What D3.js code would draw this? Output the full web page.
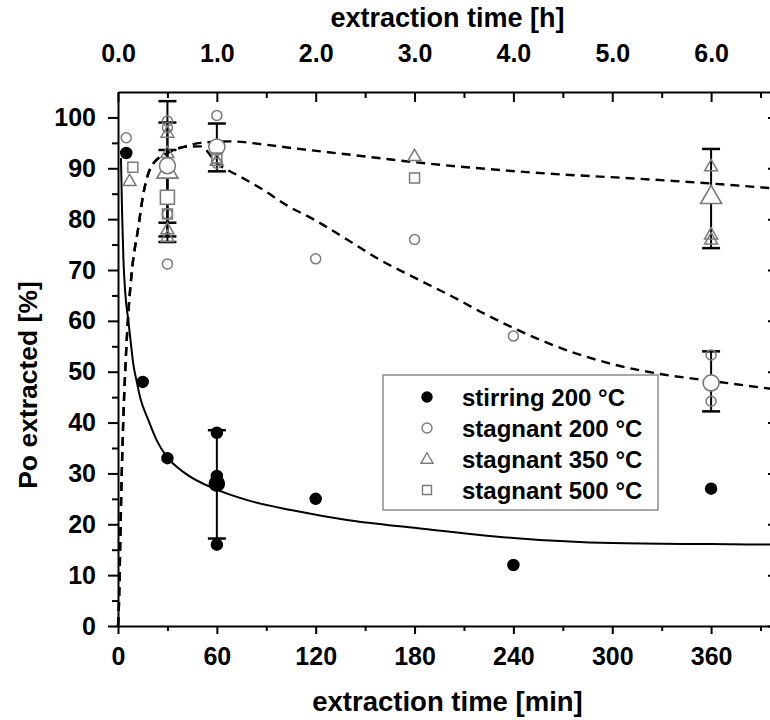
<!DOCTYPE html>
<html>
<head>
<meta charset="utf-8">
<script src="https://cdn.jsdelivr.net/npm/d3@7"></script>
<style>
  html, body { margin: 0; padding: 0; background: #fff; }
  svg { display: block; }
  text { font-family: "Liberation Sans", Arial, sans-serif; font-weight: bold; fill: #000; }
</style>
</head>
<body>
<svg id="chart" width="770" height="720"></svg>
<script>
// ---------------- data ----------------
const xTicksMin = [0, 60, 120, 180, 240, 300, 360];
const xMinorMin = [30, 90, 150, 210, 270, 330, 390];
const xTicksHour = [0, 1, 2, 3, 4, 5, 6];
const xMinorHour = [0.5, 1.5, 2.5, 3.5, 4.5, 5.5, 6.5];
const yTicks = [0, 10, 20, 30, 40, 50, 60, 70, 80, 90, 100];
const yMinor = [5, 15, 25, 35, 45, 55, 65, 75, 85, 95];

const seriesNames = ["stirring 200 °C", "stagnant 200 °C", "stagnant 350 °C", "stagnant 500 °C"];

// individual measurements [time min, % extracted]
const stirringPts = [[5, 93], [15, 48], [30, 33], [60, 38], [60, 29.5], [60, 16], [120, 25], [240, 12], [360, 27]];
const stag200Pts = [[5, 96], [30, 99.3], [30, 98], [30, 81], [30, 71.2], [60, 100.4], [60, 91], [120, 72.2], [180, 76], [240, 57], [360, 53.3], [360, 44.2]];
const stag350Pts = [[7, 87.5], [30, 97], [30, 93], [30, 78], [30, 76.5], [60, 91.5], [180, 92.4], [360, 90.4], [360, 77], [360, 76]];
const stag500Pts = [[9, 90.2], [30, 81], [60, 92], [180, 88.1]];

// means with error bars [time, mean, low, high]
const stirringMean = [[60, 28, 17.2, 38.5]];
const stag200Mean = [[30, 90.5, 79.3, 99], [60, 94.2, 89.4, 98.8], [360, 47.8, 42.2, 54]];
const stag350Mean = [[30, 89.5, 75.5, 103.2], [360, 84.5, 74.3, 93.8]];
const stag500Mean = [[30, 84.3, 76.6, 93.6]];

// fitted curves [time, %]
const fitStirring = [[1.8, 92], [2.5, 81], [3.3, 72], [4.4, 65.5], [6.3, 60], [8, 55], [9.3, 51.5], [11.4, 48], [13.4, 45], [18.4, 40.5], [23.5, 36.5], [29.6, 33.3], [40, 30.2], [60, 26.8], [80, 24.6], [105, 22.8], [140, 20.8], [180, 19.3], [240, 17.3], [300, 16.3], [360, 16.1], [400, 16]];
const fitStagHigh = [[0, 0], [0.6, 4.5], [1.4, 17], [2.2, 29], [3.2, 40.5], [4.5, 51], [6.3, 61.6], [8.3, 69.4], [12.4, 78.5], [15.4, 85], [20.5, 90.5], [30, 93], [40, 94.2], [50, 95], [68, 95.3], [88, 94.7], [105, 94], [140, 92.7], [180, 91.2], [250, 89.2], [323, 87.8], [360, 87], [400, 86]];
const fitStagLow = [[0, 0], [0.6, 4.5], [1.4, 17], [2.2, 29], [3.2, 40.5], [4.5, 51], [6.3, 61.6], [8.3, 69.4], [12.4, 78.5], [15.4, 85], [20.5, 90.5], [30, 93], [40, 94.2], [50, 94.3], [60, 91], [74, 88.4], [88, 85.8], [102, 82.8], [119, 79.9], [139, 76], [159, 72], [180, 68.5], [204, 64.6], [220, 61.8], [240, 58.6], [270, 54.5], [300, 51.5], [330, 49.5], [360, 48.2], [395, 46.7], [400, 46.5]];

// ---------------- drawing ----------------
const svg = d3.select("#chart");
const X0 = 118, X1 = 777, Y0 = 626, Y1 = 92;
const x = d3.scaleLinear().domain([0, 400]).range([X0, X1]);
const xh = d3.scaleLinear().domain([0, 400 / 60]).range([X0, X1]);
const y = d3.scaleLinear().domain([0, 105]).range([Y0, Y1]);

const GRAY = "#7a7a7a";
const TICKFONT = 25;

function styleAxis(g) {
  g.selectAll("path.domain").attr("stroke", "#000").attr("stroke-width", 2);
  g.selectAll(".tick line").attr("stroke", "#000").attr("stroke-width", 2);
  g.selectAll("text").attr("font-size", TICKFONT).attr("font-family", '"Liberation Sans", Arial, sans-serif').attr("font-weight", "bold").attr("fill", "#000");
}

// left axis
const gl = svg.append("g").attr("transform", `translate(${X0},0)`)
  .call(d3.axisLeft(y).tickValues(yTicks).tickSize(10).tickSizeOuter(0).tickPadding(12).tickFormat(d3.format("d")));
styleAxis(gl);
const glm = svg.append("g").attr("transform", `translate(${X0},0)`)
  .call(d3.axisLeft(y).tickValues(yMinor).tickSize(6).tickFormat(""));
glm.select("path.domain").remove(); styleAxis(glm);

// bottom axis
const gb = svg.append("g").attr("transform", `translate(0,${Y0})`)
  .call(d3.axisBottom(x).tickValues(xTicksMin).tickSize(8).tickSizeOuter(0).tickPadding(13).tickFormat(d3.format("d")));
styleAxis(gb);
const gbm = svg.append("g").attr("transform", `translate(0,${Y0})`)
  .call(d3.axisBottom(x).tickValues(xMinorMin).tickSize(5).tickFormat(""));
gbm.select("path.domain").remove(); styleAxis(gbm);

// top axis (hours) with inward ticks
const gt = svg.append("g").attr("transform", `translate(0,${Y1})`)
  .call(d3.axisTop(xh).tickValues(xTicksHour).tickSize(-10).tickSizeOuter(0).tickPadding(30).tickFormat(d3.format(".1f")));
styleAxis(gt);
gt.selectAll(".tick line").attr("y2", 10);
const gtm = svg.append("g").attr("transform", `translate(0,${Y1})`)
  .call(d3.axisTop(xh).tickValues(xMinorHour).tickSize(-6).tickFormat(""));
gtm.select("path.domain").remove(); styleAxis(gtm);

// right axis (inward ticks, no labels)
const gr = svg.append("g").attr("transform", `translate(${X1},0)`)
  .call(d3.axisRight(y).tickValues(yTicks).tickSize(-9).tickSizeOuter(0).tickFormat(""));
styleAxis(gr);

// axis titles
svg.append("text").attr("x", (X0 + X1) / 2).attr("y", 711).attr("text-anchor", "middle").attr("font-size", 27.5).text("extraction time [min]");
svg.append("text").attr("x", (X0 + X1) / 2).attr("y", 27).attr("text-anchor", "middle").attr("font-size", 27).text("extraction time [h]");
svg.append("text").attr("transform", `translate(37,${385}) rotate(-90)`).attr("text-anchor", "middle").attr("font-size", 26.5).text("Po extracted [%]");

// fitted curves
const line = d3.line().x(d => x(d[0])).y(d => y(d[1])).curve(d3.curveMonotoneX);
svg.append("path").datum(fitStirring).attr("d", line).attr("fill", "none").attr("stroke", "#000").attr("stroke-width", 2);
svg.append("path").datum(fitStagHigh).attr("d", line).attr("fill", "none").attr("stroke", "#000").attr("stroke-width", 2.4).attr("stroke-dasharray", "9,6");
svg.append("path").datum(fitStagLow).attr("d", line).attr("fill", "none").attr("stroke", "#000").attr("stroke-width", 2.4).attr("stroke-dasharray", "9,6");

// marker shape generators (centered)
function tri(w) { const h = w * 0.87; return `M0,${-h * 0.6}L${w / 2},${h * 0.4}L${-w / 2},${h * 0.4}Z`; }
function sq(s) { return `M${-s / 2},${-s / 2}h${s}v${s}h${-s}Z`; }
function circ(r) { return `M${r},0A${r},${r} 0 1,1 ${-r},0A${r},${r} 0 1,1 ${r},0Z`; }

// error bars
const allMeans = [].concat(stirringMean, stag200Mean, stag350Mean, stag500Mean);
const eb = svg.append("g");
allMeans.forEach(d => {
  eb.append("line").attr("x1", x(d[0])).attr("x2", x(d[0])).attr("y1", y(d[2])).attr("y2", y(d[3])).attr("stroke", "#000").attr("stroke-width", 2);
  [d[2], d[3]].forEach(v => eb.append("line").attr("x1", x(d[0]) - 9).attr("x2", x(d[0]) + 9).attr("y1", y(v)).attr("y2", y(v)).attr("stroke", "#000").attr("stroke-width", 2.5));
});

// mean (big) markers
function bigMarkers(data, shape, fill, stroke) {
  svg.append("g").selectAll("path").data(data).join("path")
    .attr("transform", d => `translate(${x(d[0])},${y(d[1])})`)
    .attr("d", shape).attr("fill", fill).attr("stroke", stroke).attr("stroke-width", 1.6);
}
bigMarkers(stag500Mean, sq(14), "#fff", GRAY);
bigMarkers(stag350Mean, tri(21), "#fff", GRAY);
bigMarkers(stag200Mean, circ(8), "#fff", GRAY);
bigMarkers(stirringMean, circ(7.5), "#000", "#000");

// individual (small) markers
function smallMarkers(data, shape, fill, stroke) {
  svg.append("g").selectAll("path").data(data).join("path")
    .attr("transform", d => `translate(${x(d[0])},${y(d[1])})`)
    .attr("d", shape).attr("fill", fill).attr("stroke", stroke).attr("stroke-width", 1.5);
}
smallMarkers(stag500Pts, sq(10), "none", GRAY);
smallMarkers(stag350Pts, tri(13), "none", GRAY);
smallMarkers(stag200Pts, circ(5), "none", GRAY);
smallMarkers(stirringPts, circ(5.5), "#000", "#000");

// legend
const lg = svg.append("g");
lg.append("rect").attr("x", 383).attr("y", 375).attr("width", 275).attr("height", 135).attr("fill", "#fff").attr("stroke", "#8a8a8a").attr("stroke-width", 1.5);
const legendShapes = [
  { d: circ(5), fill: "#000", stroke: "#000" },
  { d: circ(5), fill: "none", stroke: GRAY },
  { d: tri(12), fill: "none", stroke: GRAY },
  { d: sq(9), fill: "none", stroke: GRAY }
];
seriesNames.forEach((name, i) => {
  const cy = 397 + i * 31;
  lg.append("path").attr("transform", `translate(427,${cy})`).attr("d", legendShapes[i].d)
    .attr("fill", legendShapes[i].fill).attr("stroke", legendShapes[i].stroke).attr("stroke-width", 1.4);
  lg.append("text").attr("x", 462).attr("y", cy + 8.5).attr("font-size", 24).text(name);
});
</script>
</body>
</html>
